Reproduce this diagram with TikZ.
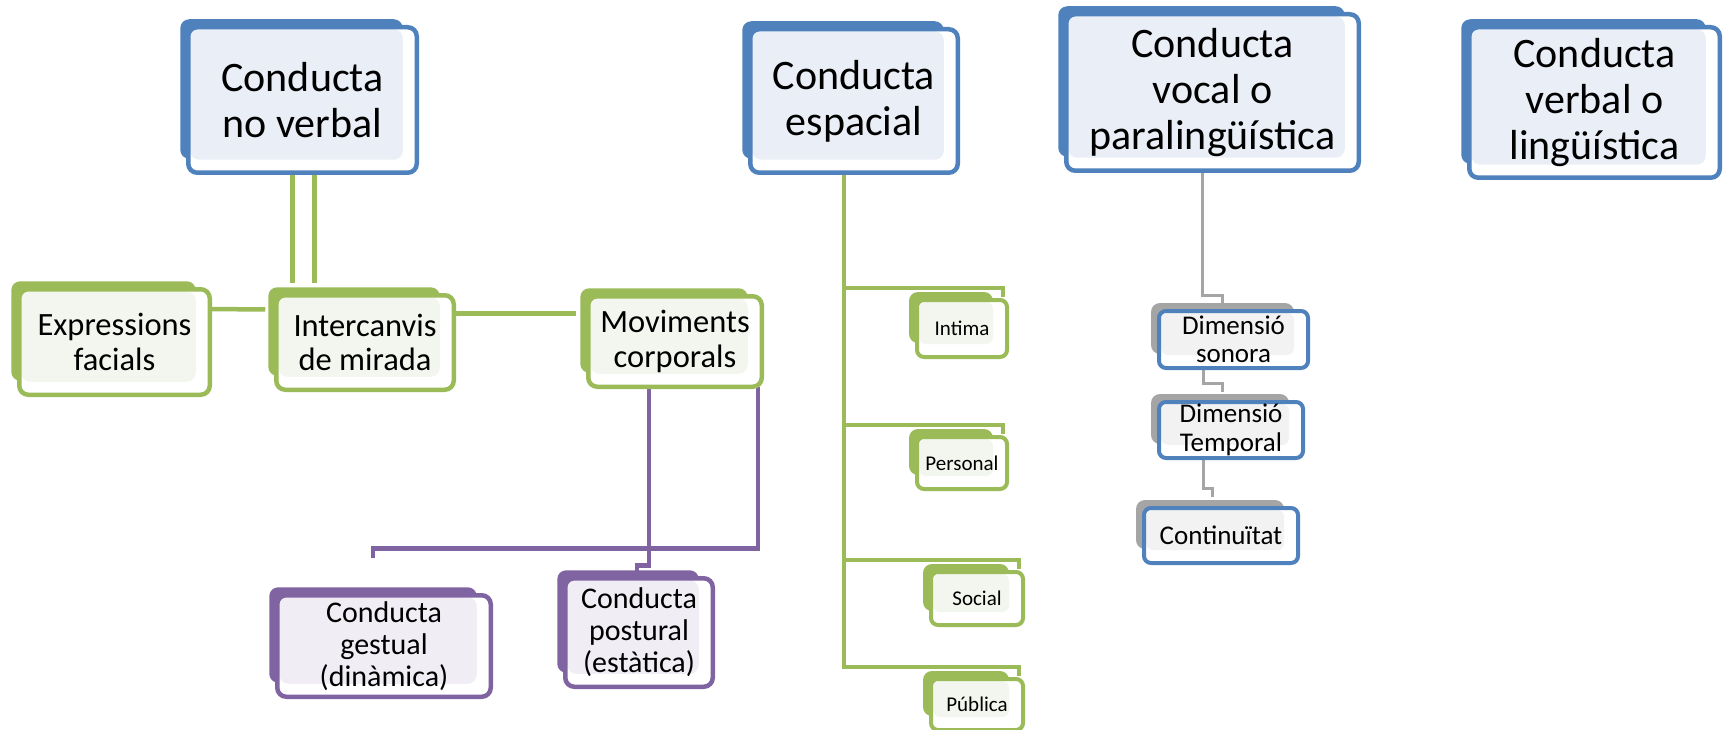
\documentclass[tikz,border=0pt]{standalone}
\usepackage{fontspec}
\setmainfont{Carlito}
\usetikzlibrary{calc}

\definecolor{blau}{HTML}{4F81BD}
\definecolor{clarblau}{HTML}{EAEFF7}
\definecolor{verd}{HTML}{9BBB59}
\definecolor{clarverd}{HTML}{F3F6EE}
\definecolor{lila}{HTML}{8064A2}
\definecolor{clarlila}{HTML}{F0EEF4}
\definecolor{gris}{HTML}{A5A5A5}
\definecolor{clargris}{HTML}{F2F2F2}

\pgfdeclarelayer{linies}
\pgfdeclarelayer{fons}
\pgfsetlayers{linies,fons,main}

\tikzset{interior/.style={path picture={\fill[#1] ([shift={(2,2)}]path picture bounding box.north west) rectangle ([shift={(-14,-13)}]path picture bounding box.south east);}}}

\begin{document}
\begin{tikzpicture}[x=1pt,y=-1pt]
			\tikzstyle{caixa}=[rectangle,rounded corners=9pt,line width=4.5pt,fill=white,outer sep=0pt,inner sep=0pt,align=center]
			\tikzstyle{blava}=[caixa,draw=blau,interior=clarblau,font=\fontsize{42}{46}\selectfont]
			\tikzstyle{verdeta}=[caixa,draw=verd,interior=clarverd,font=\fontsize{32.5}{34.5}\selectfont]
			\tikzstyle{petita}=[verdeta,line width=4pt,rounded corners=7pt,font=\fontsize{21}{24}\selectfont]
			\tikzstyle{lilosa}=[caixa,draw=lila,interior=clarlila,font=\fontsize{30}{32}\selectfont]
			\tikzstyle{grisa}=[caixa,draw=blau,interior=clargris,line width=4pt,rounded corners=7pt,font=\fontsize{27}{28.5}\selectfont]
			\tikzstyle{uneixv}=[draw=verd,line width=4.5pt]
			\tikzstyle{uneixl}=[draw=lila,line width=4.5pt]
			\tikzstyle{uneixg}=[draw=gris,line width=3pt]

			\useasboundingbox (0,0) rectangle (1723,730);

			% caixes de dalt
			\node[blava,minimum width=228.5,minimum height=145.5] (nover) at (302.5,100) {Conducta\\no verbal};
			\node[blava,minimum width=207.5,minimum height=143.5] (espai) at (854,101) {Conducta\\espacial};
			\node[blava,minimum width=292.5,minimum height=156.5] (vocal) at (1212.5,92.5) {Conducta\\vocal o\\paralingüística};
			\node[blava,minimum width=250.5,minimum height=150.5] (verbal) at (1594.5,102.5) {Conducta\\verbal o\\lingüística};

			% conducta no verbal
			\node[verdeta,minimum width=190.5,minimum height=105.5] (expr) at (114.5,342) {Expressions\\facials};
			\node[verdeta,minimum width=177.5,minimum height=94.5] (mirada) at (365,342.5) {Intercanvis\\de mirada};
			\node[verdeta,minimum width=173.5,minimum height=90.5] (movim) at (675,341.5) {Moviments\\corporals};
			\node[lilosa,minimum width=213.5,minimum height=101.5] (gestual) at (384,646) {Conducta\\gestual\\(dinàmica)};
			\node[lilosa,minimum width=147.5,minimum height=108.5] (postural) at (639,632.5) {Conducta\\postural\\(estàtica)};

			% conducta espacial
			\node[petita,minimum width=90,minimum height=57] (intima) at (962,328.5) {Intima};
			\node[petita,minimum width=90,minimum height=52] (personal) at (962,463) {Personal};
			\node[petita,minimum width=92,minimum height=53] (social) at (977,598.5) {Social};
			\node[petita,minimum width=92,minimum height=51] (publica) at (977,704.5) {Pública};

			% conducta vocal
			\node[grisa,minimum width=149,minimum height=57] (sonora) at (1233.5,339.5) {Dimensió\\sonora};
			\node[grisa,minimum width=144,minimum height=56] (temporal) at (1231,430) {Dimensió\\Temporal};
			\node[grisa,minimum width=154,minimum height=55] (continuitat) at (1221,535.5) {Continuïtat};

			\begin{pgfonlayer}{fons}
				\foreach \n/\c in {nover/blau,espai/blau,vocal/blau,verbal/blau,expr/verd,mirada/verd,movim/verd,gestual/lila,postural/lila,intima/verd,personal/verd,social/verd,publica/verd,sonora/gris,temporal/gris,continuitat/gris}
					\fill[\c,rounded corners=9pt] ($(\n.north west)+(-8,-8)$) rectangle ($(\n.south east)+(-14,-14)$);
			\end{pgfonlayer}

			\begin{pgfonlayer}{linies}
				\draw[uneixv] ($(nover.south)+(-10,0)$) -- ($(nover.south |- mirada.north)+(-10,-12)$);
				\draw[uneixv] ($(nover.south)+(12,0)$) -- ($(nover.south |- mirada.north)+(12,-12)$);
				\draw[uneixv] ($(expr.east)+(0,-33)$) -- ($(mirada.west)+(-11,-33)$);
				\draw[uneixv] ($(mirada.east)+(0,-29)$) -- ($(movim.west)+(-12,-28)$);
				\draw[uneixl] ($(movim.south)+(-26,0)$) |- ($(postural.north)+(-2,-13)$) -- ($(postural.north)+(-2,-5)$);
				\draw[uneixl] ($(movim.south east)+(-4,0)$) |- ($(gestual.north)+(-11,-47)$) -- ($(gestual.north)+(-11,-37)$);
				\foreach \f in {intima,personal,social,publica}
					\draw[uneixv] ($(espai.south)+(-10,0)$) |- ($(\f.north east)+(-4,-12)$) -- ($(\f.north east)+(-4,-3)$);
				\draw[uneixg] ($(vocal.south)+(-10,0)$) |- ($(sonora.north)+(-11,-16)$) -- ($(sonora.north)+(-11,-8)$);
				\draw[uneixg] ($(sonora.south)+(-30,0)$) |- ($(temporal.north)+(-9,-19)$) -- ($(temporal.north)+(-9,-10)$);
				\draw[uneixg] ($(temporal.south)+(-28,0)$) |- ($(continuitat.north)+(-9,-20)$) -- ($(continuitat.north)+(-9,-11)$);
			\end{pgfonlayer}
\end{tikzpicture}
\end{document}
